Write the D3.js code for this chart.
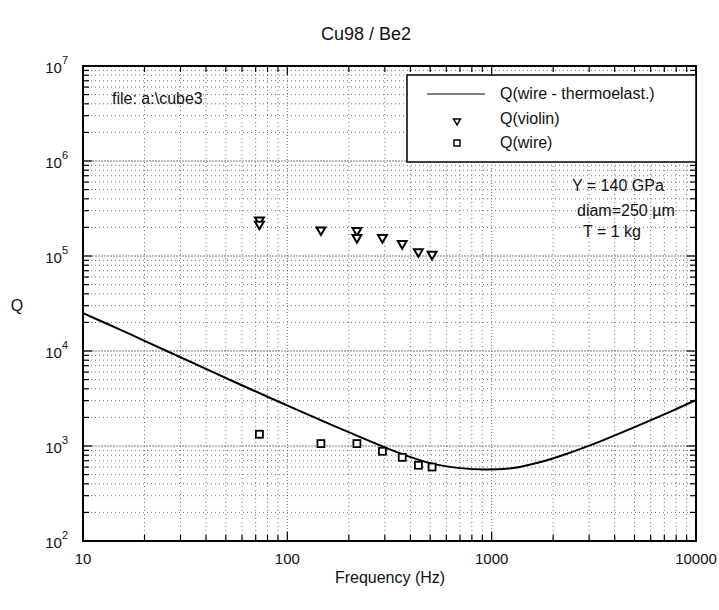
<!DOCTYPE html>
<html>
<head>
<meta charset="utf-8">
<script src="https://cdn.jsdelivr.net/npm/d3@7"></script>
<style>
  body { margin: 0; background: #fff; }
  text { font-family: "Liberation Sans", Arial, Helvetica, sans-serif; fill: #111; }
</style>
</head>
<body>
<svg id="chart"></svg>
<script>
// data
var curveFreq = [10, 15, 20, 30, 50, 80, 120, 170, 250, 350, 500, 700, 950, 1300, 1700, 2300, 3400, 5000, 7500, 10000];
var curveQ    = [25000, 17000, 12800, 8600, 5200, 3300, 2250, 1620, 1140, 850, 660, 585, 565, 590, 670, 820, 1120, 1580, 2300, 3050];

var violinFreq = [73, 73, 146, 219, 219, 292, 365, 438, 511];
var violinQ    = [239000, 216000, 188000, 185000, 156000, 156000, 135000, 111000, 104000];

var wireFreq = [73, 146, 219, 292, 365, 438, 511];
var wireQ    = [1330, 1060, 1060, 880, 760, 627, 601];

var legendLabels = ["Q(wire - thermoelast.)", "Q(violin)", "Q(wire)"];
var notes = ["Y = 140 GPa", "diam=250 \u00b5m", "T = 1 kg"];
var xTickLabels = [10, 100, 1000, 10000];
var yExponents = [2, 3, 4, 5, 6, 7];

// setup
var width = 719, height = 610;
var pL = 83, pR = 696, pT = 66, pB = 541;

var svg = d3.select("#chart").attr("width", width).attr("height", height);

var x = d3.scaleLog().domain([10, 10000]).range([pL, pR]);
var y = d3.scaleLog().domain([100, 1e7]).range([pB, pT]);

function isMajor(d) { return Math.abs(Math.log10(d) - Math.round(Math.log10(d))) < 1e-9; }

// grid
var xMinor = x.ticks(), yMinor = y.ticks();
var grid = svg.append("g").attr("class", "grid");
grid.selectAll("line.vx").data(xMinor).enter().append("line")
    .attr("x1", d => x(d)).attr("x2", d => x(d))
    .attr("y1", pT).attr("y2", pB)
    .attr("stroke", "#666").attr("stroke-width", 0.9)
    .attr("stroke-dasharray", d => isMajor(d) ? "1,2" : "1,3");
grid.selectAll("line.hy").data(yMinor).enter().append("line")
    .attr("y1", d => y(d)).attr("y2", d => y(d))
    .attr("x1", pL).attr("x2", pR)
    .attr("stroke", "#666").attr("stroke-width", 0.9)
    .attr("stroke-dasharray", d => isMajor(d) ? "2,1" : "1,3");

// ticks (inward, all four sides)
var ticks = svg.append("g").attr("stroke", "#000");
ticks.selectAll("line.b").data(xMinor).enter().append("line")
    .attr("x1", d => x(d)).attr("x2", d => x(d))
    .attr("y1", pB).attr("y2", d => pB - (isMajor(d) ? 9 : 6)).attr("stroke-width", 1.2);
ticks.selectAll("line.t").data(xMinor).enter().append("line")
    .attr("x1", d => x(d)).attr("x2", d => x(d))
    .attr("y1", pT).attr("y2", d => pT + (isMajor(d) ? 9 : 6)).attr("stroke-width", 1.2);
ticks.selectAll("line.l").data(yMinor).enter().append("line")
    .attr("y1", d => y(d)).attr("y2", d => y(d))
    .attr("x1", pL).attr("x2", d => pL + (isMajor(d) ? 9 : 6)).attr("stroke-width", 1.2);
ticks.selectAll("line.r").data(yMinor).enter().append("line")
    .attr("y1", d => y(d)).attr("y2", d => y(d))
    .attr("x1", pR).attr("x2", d => pR - (isMajor(d) ? 9 : 6)).attr("stroke-width", 1.2);

// frame
svg.append("rect").attr("x", pL).attr("y", pT)
    .attr("width", pR - pL).attr("height", pB - pT)
    .attr("fill", "none").attr("stroke", "#000").attr("stroke-width", 2);

// tick labels
svg.selectAll("text.xl").data(xTickLabels).enter().append("text")
    .attr("x", d => x(d)).attr("y", 564)
    .attr("text-anchor", "middle").attr("font-size", 15)
    .text(d => d);

var yl = svg.selectAll("text.yl").data(yExponents).enter().append("text")
    .attr("x", 68).attr("y", d => y(Math.pow(10, d)) + 7)
    .attr("text-anchor", "end").attr("font-size", 15);
yl.append("tspan").text("10");
yl.append("tspan").attr("dy", -9).attr("font-size", 11).text(d => d);

// titles
svg.append("text").attr("x", 366).attr("y", 40).attr("text-anchor", "middle")
    .attr("font-size", 18).text("Cu98 / Be2");
svg.append("text").attr("x", 390).attr("y", 583).attr("text-anchor", "middle")
    .attr("font-size", 16).text("Frequency (Hz)");
svg.append("text").attr("x", 17).attr("y", 311).attr("text-anchor", "middle")
    .attr("font-size", 16).text("Q");

// curve
var pts = curveFreq.map((f, i) => [f, curveQ[i]]);
svg.append("path").datum(pts)
    .attr("d", d3.line().x(d => x(d[0])).y(d => y(d[1])).curve(d3.curveCatmullRom))
    .attr("fill", "none").attr("stroke", "#000").attr("stroke-width", 2);

// markers
var tri = d3.symbol().type(d3.symbolTriangle).size(34);
svg.selectAll("path.violin").data(violinFreq).enter().append("path")
    .attr("d", tri)
    .attr("transform", (d, i) => "translate(" + x(d) + "," + y(violinQ[i]) + ") rotate(180)")
    .attr("fill", "#fff").attr("stroke", "#000").attr("stroke-width", 2);

svg.selectAll("rect.wire").data(wireFreq).enter().append("rect")
    .attr("x", d => x(d) - 3.5).attr("y", (d, i) => y(wireQ[i]) - 3.5)
    .attr("width", 7).attr("height", 7)
    .attr("fill", "#fff").attr("stroke", "#000").attr("stroke-width", 1.8);

// legend
var lg = svg.append("g");
lg.append("rect").attr("x", 407).attr("y", 75).attr("width", 289).attr("height", 87)
    .attr("fill", "#fff").attr("stroke", "#000").attr("stroke-width", 1.5);
lg.append("line").attr("x1", 427).attr("x2", 485).attr("y1", 94).attr("y2", 94)
    .attr("stroke", "#000").attr("stroke-width", 1.2);
lg.append("path").attr("d", d3.symbol().type(d3.symbolTriangle).size(20))
    .attr("transform", "translate(457,121) rotate(180)")
    .attr("fill", "#fff").attr("stroke", "#000").attr("stroke-width", 1.5);
lg.append("rect").attr("x", 454).attr("y", 140).attr("width", 6).attr("height", 6)
    .attr("fill", "#fff").attr("stroke", "#000").attr("stroke-width", 1.5);
lg.selectAll("text").data(legendLabels).enter().append("text")
    .attr("x", 500).attr("y", (d, i) => 99 + i * 24.5)
    .attr("font-size", 16).text(d => d);

// notes
svg.append("text").attr("x", 112).attr("y", 104).attr("font-size", 16).text("file: a:\\cube3");
svg.selectAll("text.note").data(notes).enter().append("text")
    .attr("x", (d, i) => [572, 577, 583][i]).attr("y", (d, i) => [191, 216, 237][i])
    .attr("font-size", 16).text(d => d);
</script>
</body>
</html>
